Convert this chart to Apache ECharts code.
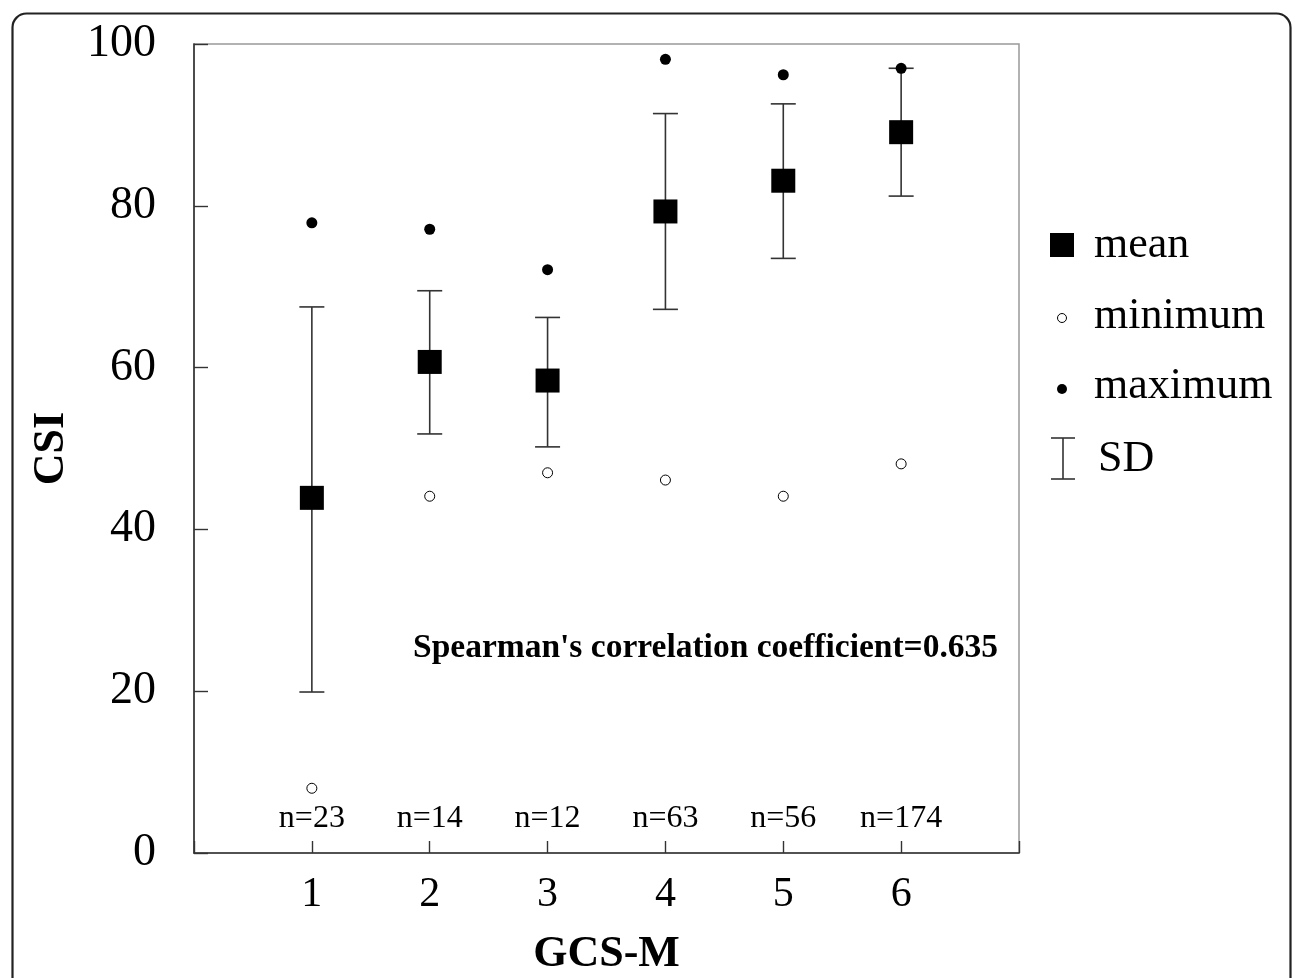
<!DOCTYPE html>
<html>
<head>
<meta charset="utf-8">
<script src="https://cdn.jsdelivr.net/npm/echarts@6/dist/echarts.min.js"></script>
<style>
html,body{margin:0;padding:0;background:#fff;}
#chart{width:1295px;height:978px;}
</style>
</head>
<body>
<div id="chart"></div>
<script>
var categories = [1, 2, 3, 4, 5, 6];
var meanValues = [43.9, 60.7, 58.4, 79.3, 83.1, 89.1];
var sdUpper = [67.5, 69.5, 66.2, 91.4, 92.6, 97.0];
var sdLower = [19.9, 51.8, 50.2, 67.2, 73.5, 81.2];
var maxValues = [77.9, 77.1, 72.1, 98.1, 96.2, 97.0];
var minValues = [8.0, 44.1, 47.0, 46.1, 44.1, 48.1];
var nLabels = ['n=23', 'n=14', 'n=12', 'n=63', 'n=56', 'n=174'];
var yTicks = [0, 20, 40, 60, 80, 100];
var annotation = "Spearman's correlation coefficient=0.635";

var serif = '"Liberation Serif", "DejaVu Serif", serif';
var chart = echarts.init(document.getElementById('chart'));

var meanData = categories.map(function (c, i) { return [c, meanValues[i]]; });
var maxData = categories.map(function (c, i) { return [c, maxValues[i]]; });
var minData = categories.map(function (c, i) { return [c, minValues[i]]; });
var sdData = categories.map(function (c, i) { return [c, sdLower[i], sdUpper[i]]; });
var nData = categories.map(function (c, i) { return {value: [c, 0], name: nLabels[i]}; });

function renderSD(params, api) {
  var x = api.value(0);
  var lo = api.coord([x, api.value(1)]);
  var hi = api.coord([x, api.value(2)]);
  var hw = 12.5;
  var style = {stroke: '#333', lineWidth: 1.6};
  return {
    type: 'group',
    children: [
      {type: 'line', shape: {x1: lo[0], y1: lo[1], x2: hi[0], y2: hi[1]}, style: style},
      {type: 'line', shape: {x1: hi[0] - hw, y1: hi[1], x2: hi[0] + hw, y2: hi[1]}, style: style},
      {type: 'line', shape: {x1: lo[0] - hw, y1: lo[1], x2: lo[0] + hw, y2: lo[1]}, style: style}
    ]
  };
}

var lgX = 1062;
var legendGraphics = [
  {type: 'rect', left: 10, top: 11, shape: {x: 0, y: 0, width: 1278, height: 1010, r: 14},
   style: {fill: 'none', stroke: '#222', lineWidth: 2.2}, silent: true},
  {type: 'rect', shape: {x: lgX - 12, y: 233, width: 24, height: 24}, style: {fill: '#000'}},
  {type: 'text', x: 1094, y: 245, style: {text: 'mean', font: '44px ' + serif, fill: '#000', textVerticalAlign: 'middle'}},
  {type: 'circle', shape: {cx: lgX, cy: 318, r: 4.5}, style: {fill: '#fff', stroke: '#000', lineWidth: 1}},
  {type: 'text', x: 1094, y: 316, style: {text: 'minimum', font: '44px ' + serif, fill: '#000', textVerticalAlign: 'middle'}},
  {type: 'circle', shape: {cx: lgX, cy: 389, r: 5}, style: {fill: '#000'}},
  {type: 'text', x: 1094, y: 386, style: {text: 'maximum', font: '44px ' + serif, fill: '#000', textVerticalAlign: 'middle'}},
  {type: 'line', shape: {x1: lgX + 1, y1: 438, x2: lgX + 1, y2: 479}, style: {stroke: '#333', lineWidth: 1.6}},
  {type: 'line', shape: {x1: lgX - 11, y1: 438, x2: lgX + 13, y2: 438}, style: {stroke: '#333', lineWidth: 1.6}},
  {type: 'line', shape: {x1: lgX - 11, y1: 479, x2: lgX + 13, y2: 479}, style: {stroke: '#333', lineWidth: 1.6}},
  {type: 'text', x: 1098, y: 459, style: {text: 'SD', font: '44px ' + serif, fill: '#000', textVerticalAlign: 'middle'}},
  {type: 'text', x: 413, y: 648, style: {text: annotation, font: 'bold 33.5px ' + serif, fill: '#000', textVerticalAlign: 'middle'}}
];

var option = {
  backgroundColor: '#fff',
  animation: false,
  grid: {left: 194, right: 276, top: 44, bottom: 125, outerBoundsMode: 'none', containLabel: false,
    show: true, borderColor: '#999', borderWidth: 1.5, backgroundColor: 'transparent'},
  xAxis: {
    type: 'value', min: 0, max: 7, interval: 1,
    name: 'GCS-M', nameLocation: 'middle', nameGap: 80,
    nameTextStyle: {fontFamily: serif, fontWeight: 'bold', fontSize: 44, color: '#000'},
    axisLine: {show: true, lineStyle: {color: '#333', width: 1.6}},
    axisTick: {show: true, inside: true, length: 12, lineStyle: {color: '#333', width: 1.4}},
    axisLabel: {fontFamily: serif, fontSize: 42, color: '#000', margin: 21,
      formatter: function (v) { return categories.indexOf(v) >= 0 ? String(v) : ''; }},
    splitLine: {show: false}
  },
  yAxis: {
    type: 'value', min: 0, max: 100, interval: 20,
    name: 'CSI', nameLocation: 'middle', nameGap: 120, nameRotate: 90,
    nameTextStyle: {fontFamily: serif, fontWeight: 'bold', fontSize: 44, color: '#000'},
    axisLine: {show: true, lineStyle: {color: '#333', width: 1.6}},
    axisTick: {show: true, inside: true, length: 14, lineStyle: {color: '#333', width: 1.4}},
    axisLabel: {fontFamily: serif, fontSize: 46, color: '#000', margin: 38,
      formatter: function (v) { return yTicks.indexOf(v) >= 0 ? String(v) : ''; }},
    splitLine: {show: false}
  },
  graphic: legendGraphics,
  series: [
    {type: 'custom', name: 'SD', renderItem: renderSD, data: sdData, encode: {x: 0, y: [1, 2]}, z: 2},
    {type: 'scatter', name: 'mean', data: meanData, symbol: 'rect', symbolSize: 24, itemStyle: {color: '#000', opacity: 1}, z: 3},
    {type: 'scatter', name: 'maximum', data: maxData, symbol: 'circle', symbolSize: 11, itemStyle: {color: '#000', opacity: 1}, z: 3},
    {type: 'scatter', name: 'minimum', data: minData, symbol: 'circle', symbolSize: 10, itemStyle: {color: '#fff', borderColor: '#000', borderWidth: 1, opacity: 1}, z: 3},
    {type: 'scatter', name: 'n', data: nData, symbolSize: 0, z: 3, itemStyle: {opacity: 1},
      label: {show: true, position: 'top', distance: 18, formatter: function (p) { return p.name; },
        fontFamily: serif, fontSize: 32, color: '#000'}}
  ]
};
chart.setOption(option);
</script>
</body>
</html>
